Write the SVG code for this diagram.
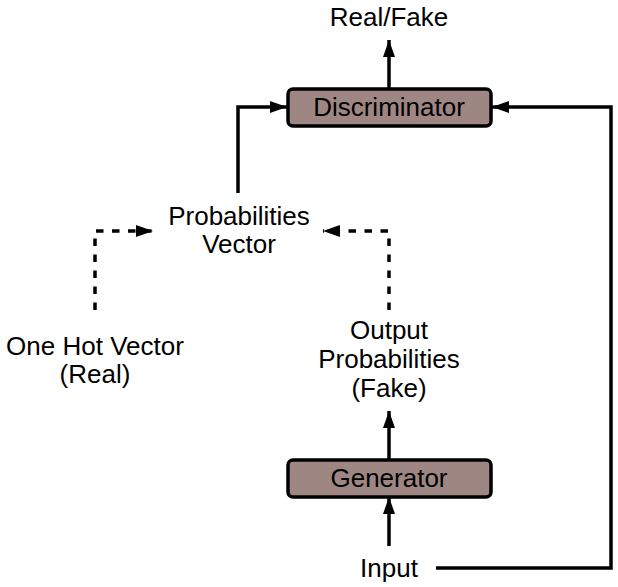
<svg xmlns="http://www.w3.org/2000/svg" width="618" height="587" viewBox="0 0 618 587">
<defs>
<style>
text{font-family:"Liberation Sans",Arial,sans-serif;font-size:26px;fill:#000;text-anchor:middle}
.box{fill:#9e8783;stroke:#000;stroke-width:3.5}
.ln{fill:none;stroke:#000;stroke-width:3.5}
.dash{fill:none;stroke:#000;stroke-width:3.5;stroke-dasharray:7.5,8.5}
</style>
<marker id="ah" viewBox="0 0 17 12" refX="17" refY="6" markerWidth="17" markerHeight="12" markerUnits="userSpaceOnUse" orient="auto">
<path d="M0,0L17,6L0,12z" fill="#000"/>
</marker>
</defs>
<g id="connectors">
<path class="ln" d="M389,88V40" marker-end="url(#ah)"/>
<path class="ln" d="M238,193V107H287" marker-end="url(#ah)"/>
<path class="ln" d="M436,568H611V107H492" marker-end="url(#ah)"/>
<path class="dash" d="M95,310V231H153" marker-end="url(#ah)"/>
<path class="dash" d="M389,310V231H323" marker-end="url(#ah)"/>
<path class="ln" d="M389,459V411" marker-end="url(#ah)"/>
<path class="ln" d="M389,546V497" marker-end="url(#ah)"/>
</g>
<g id="realfake"><text x="389" y="26">Real/Fake</text></g>
<g id="discriminator"><rect class="box" x="288" y="89" width="203" height="37" rx="5"/><text x="389" y="116">Discriminator</text></g>
<g id="probvector"><text x="239" y="225">Probabilities</text><text x="239" y="253">Vector</text></g>
<g id="onehot"><text x="95" y="355">One Hot Vector</text><text x="95" y="383">(Real)</text></g>
<g id="outprob"><text x="389" y="339">Output</text><text x="389" y="368">Probabilities</text><text x="389" y="397">(Fake)</text></g>
<g id="generator"><rect class="box" x="288" y="460" width="203" height="37" rx="5"/><text x="389" y="487">Generator</text></g>
<g id="input"><text x="389" y="577">Input</text></g>
</svg>
